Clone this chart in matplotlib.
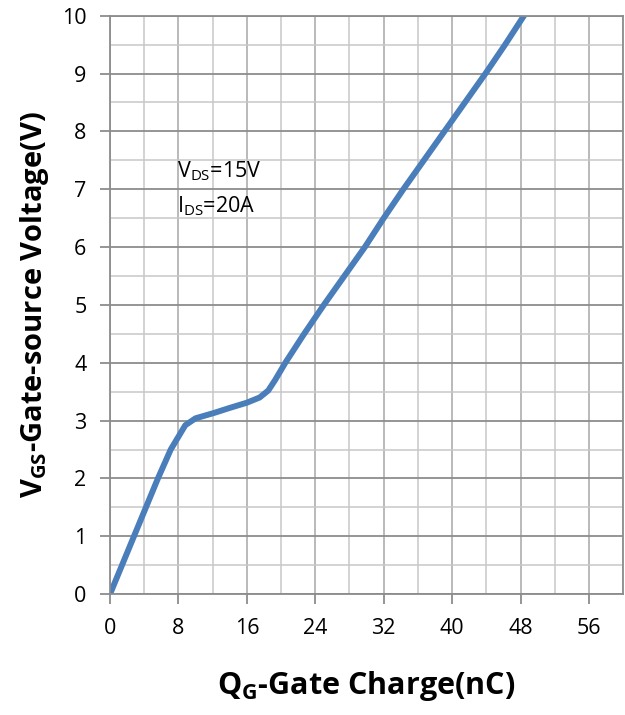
import matplotlib.pyplot as plt
from matplotlib.ticker import MultipleLocator

# Dati (carica di gate vs tensione gate-source)
qg = [0, 1.4, 2.8, 4.2, 5.6, 7.1, 8.8, 10.0, 12.1, 14.0, 16.0, 17.5,
      18.5, 19.3, 20.5, 22.7, 25.0, 27.4, 29.8, 32.0, 34.3, 36.7, 39.1,
      41.5, 43.9, 46.2, 48.4]
vgs = [0, 0.5, 1.0, 1.5, 2.0, 2.5, 2.92, 3.04, 3.13, 3.22, 3.31, 3.40,
       3.52, 3.7, 4.0, 4.5, 5.0, 5.5, 6.0, 6.5, 7.0, 7.5, 8.0, 8.5, 9.0,
       9.5, 10.0]

xticks = [0, 8, 16, 24, 32, 40, 48, 56]
yticks = list(range(0, 11))

plt.rcParams['font.family'] = ['Open Sans', 'DejaVu Sans']
plt.rcParams['mathtext.fontset'] = 'custom'
plt.rcParams['mathtext.rm'] = 'Open Sans'
plt.rcParams['mathtext.bf'] = 'Open Sans:bold'

fig = plt.figure(figsize=(6.25, 7.15), dpi=100)
ax = fig.add_axes([0.176, 0.169, 0.821, 0.809])

ax.plot(qg, vgs, color='#4a7ebb', linewidth=4.3, solid_capstyle='round',
        solid_joinstyle='round')

ax.set_xlim(0, 60)
ax.set_ylim(0, 10)
ax.set_xticks(xticks)
ax.set_yticks(yticks)
ax.xaxis.set_minor_locator(MultipleLocator(4))
ax.yaxis.set_minor_locator(MultipleLocator(0.5))

ax.grid(which='major', axis='y', color='#8c8c8c', linewidth=1.3)
ax.grid(which='major', axis='x', color='#b4b4b4', linewidth=1.3)
ax.grid(which='minor', color='#c8c8c8', linewidth=1.1)
ax.set_axisbelow(True)

ax.tick_params(which='major', length=7, width=1.3, color='#8c8c8c',
               labelsize=15.5, labelcolor='black', pad=10)
ax.tick_params(which='minor', length=0)
for s in ax.spines.values():
    s.set_color('#8c8c8c')
    s.set_linewidth(1.3)

ax.set_xlabel(r'Q$_{\mathbf{G}}$-Gate Charge(nC)', fontsize=22,
              fontweight='bold', labelpad=22)
ax.set_ylabel(r'V$_{\mathbf{GS}}$-Gate-source Voltage(V)', fontsize=21,
              fontweight='bold', labelpad=8)

ax.text(7.8, 7.2, r'V$_{\mathregular{DS}}$=15V', fontsize=15.5, va='baseline')
ax.text(7.8, 6.6, r'I$_{\mathregular{DS}}$=20A', fontsize=15.5, va='baseline')

fig.savefig('out.png', dpi=100)
